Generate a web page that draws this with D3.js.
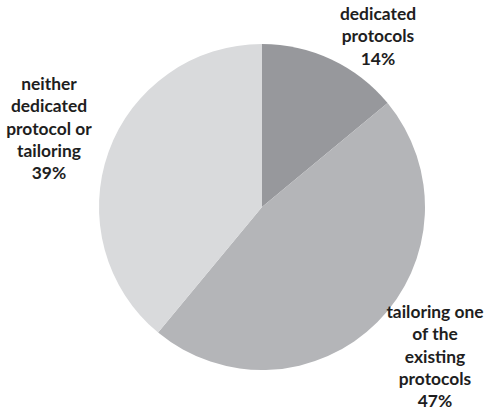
<!DOCTYPE html>
<html>
<head>
<meta charset="utf-8">
<script src="https://cdn.jsdelivr.net/npm/d3@7"></script>
<style>
  body { margin: 0; background: #fff; }
  text { font-family: Lato, "Open Sans", sans-serif; font-weight: bold; fill: #1e1e1e; }
</style>
</head>
<body>
<svg width="487" height="415"></svg>
<script>
const categories = ['dedicated protocols', 'tailoring one of the existing protocols', 'neither dedicated protocol or tailoring'];
const values = [14, 47, 39];
const colors = ['#97989c', '#b4b5b8', '#d9dadc'];
// label lines as they wrap in the picture
const labelLines = [
    ['dedicated', 'protocols', '14%'],
    ['tailoring one', 'of the', 'existing', 'protocols', '47%'],
    ['neither', 'dedicated', 'protocol or', 'tailoring', '39%']
];
const labelPos = [[378, 20], [435, 318], [49, 90]];

const svg = d3.select('svg');
const cx = 262;
const cy = 207;
const radius = 163;
const lineHeight = 22.3;

const g = svg.append('g')
    .attr('transform', `translate(${cx}, ${cy})`);

const pie = d3.pie().sort(null).value(d => d);
const arc = d3.arc().innerRadius(0).outerRadius(radius);

g.selectAll('path')
    .data(pie(values))
    .enter().append('path')
        .attr('d', arc)
        .attr('fill', (d, i) => colors[i]);

const labels = svg.selectAll('text.label')
    .data(categories)
    .enter().append('text')
        .attr('class', 'label')
        .attr('text-anchor', 'middle')
        .attr('font-size', 17.4)
        .attr('x', (d, i) => labelPos[i][0])
        .attr('y', (d, i) => labelPos[i][1]);

labels.each(function (d, i) {
    d3.select(this).selectAll('tspan')
        .data(labelLines[i])
        .enter().append('tspan')
            .attr('x', labelPos[i][0])
            .attr('dy', (t, j) => j === 0 ? 0 : lineHeight)
            .text(t => t);
});
</script>
</body>
</html>
